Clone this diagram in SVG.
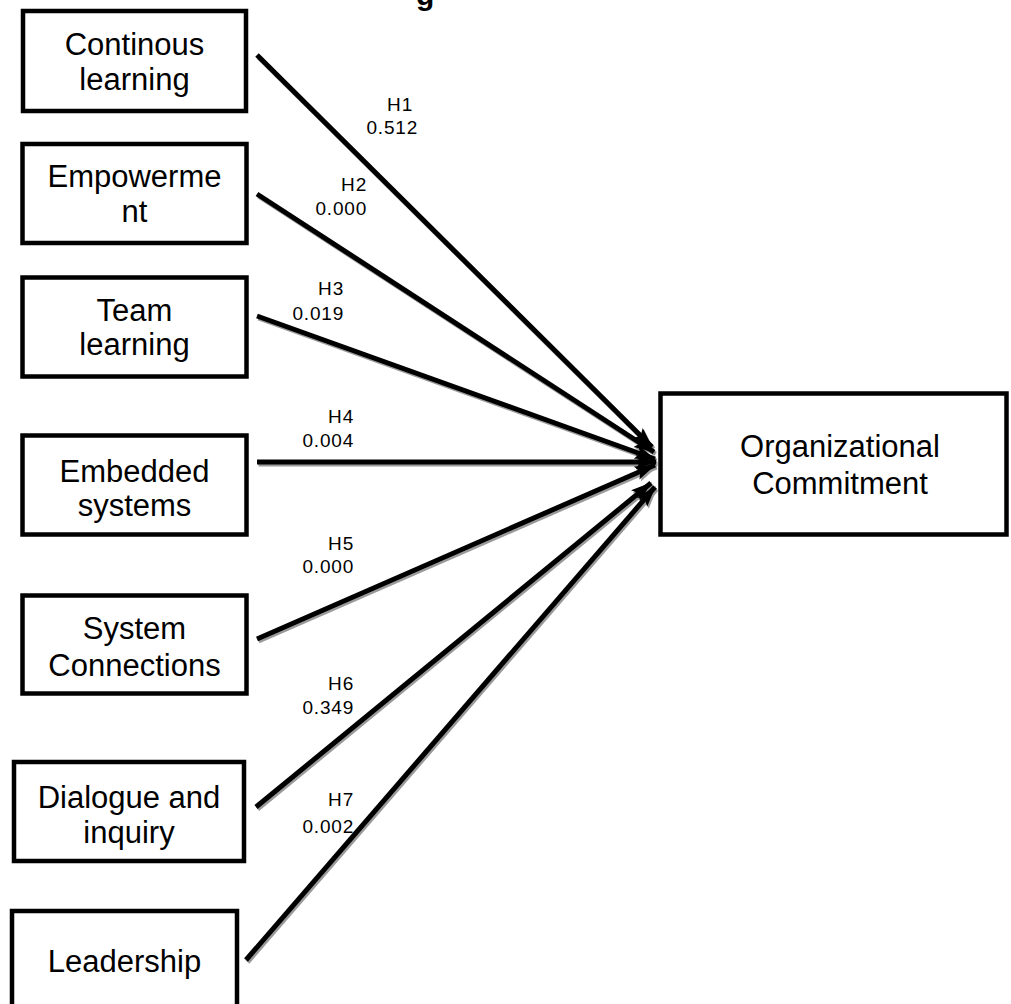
<svg xmlns="http://www.w3.org/2000/svg" width="1011" height="1004" viewBox="0 0 1011 1004">
<style>
.box{fill:#fff;stroke:#000;stroke-width:4.5}
.bt{font-family:"Liberation Sans",Arial,sans-serif;font-size:31px;fill:#000;text-anchor:middle}
.lb{font-family:"Liberation Sans",Arial,sans-serif;font-size:19px;letter-spacing:0.8px;fill:#000;text-anchor:end}
.ln{stroke:#000;stroke-width:5;fill:none;marker-end:url(#ah)}
.sh{stroke:#9a9a9a;stroke-width:5;fill:none;marker-end:url(#ahs)}
</style>
<defs>
<marker id="ah" markerUnits="userSpaceOnUse" markerWidth="24" markerHeight="16" refX="20" refY="7" orient="auto"><path d="M0,0 L21,7 L0,14 L4,7 z" fill="#000"/></marker>
<marker id="ahs" markerUnits="userSpaceOnUse" markerWidth="24" markerHeight="16" refX="20" refY="7" orient="auto"><path d="M0,0 L21,7 L0,14 L4,7 z" fill="#9a9a9a"/></marker>
</defs>
<rect width="1011" height="1004" fill="#fff"/>
<text x="416" y="5" style="font-family:'Liberation Sans',Arial,sans-serif;font-size:30px;font-weight:bold">g</text>
<g id="connectors">
<g transform="translate(1.5,2)">
<line class="sh" x1="257" y1="55" x2="652" y2="447"/>
<line class="sh" x1="257" y1="194" x2="654" y2="452"/>
<line class="sh" x1="257" y1="316" x2="655" y2="459"/>
<line class="sh" x1="257" y1="462" x2="656" y2="462"/>
<line class="sh" x1="257" y1="639" x2="655" y2="465"/>
<line class="sh" x1="256" y1="807" x2="651" y2="483"/>
<line class="sh" x1="246" y1="960" x2="655" y2="487"/>
</g>
<line class="ln" x1="257" y1="55" x2="652" y2="447"/>
<line class="ln" x1="257" y1="194" x2="654" y2="452"/>
<line class="ln" x1="257" y1="316" x2="655" y2="459"/>
<line class="ln" x1="257" y1="462" x2="656" y2="462"/>
<line class="ln" x1="257" y1="639" x2="655" y2="465"/>
<line class="ln" x1="256" y1="807" x2="651" y2="483"/>
<line class="ln" x1="246" y1="960" x2="655" y2="487"/>
</g>
<g id="labels">
<text class="lb" x="413" y="111">H1</text><text class="lb" x="418" y="134">0.512</text>
<text class="lb" x="367" y="191">H2</text><text class="lb" x="367" y="215">0.000</text>
<text class="lb" x="344" y="295">H3</text><text class="lb" x="344" y="320">0.019</text>
<text class="lb" x="354" y="423">H4</text><text class="lb" x="354" y="447">0.004</text>
<text class="lb" x="354" y="550">H5</text><text class="lb" x="354" y="573">0.000</text>
<text class="lb" x="354" y="690">H6</text><text class="lb" x="354" y="714">0.349</text>
<text class="lb" x="354" y="806">H7</text><text class="lb" x="354" y="833">0.002</text>
</g>
<g id="n1"><rect class="box" x="23" y="11" width="223" height="100"/><text class="bt" x="134.5" y="55">Continous</text><text class="bt" x="134.5" y="90">learning</text></g>
<g id="n2"><rect class="box" x="22.5" y="144" width="224" height="99"/><text class="bt" x="134.5" y="187">Empowerme</text><text class="bt" x="134.5" y="222">nt</text></g>
<g id="n3"><rect class="box" x="22.5" y="277.5" width="224" height="99"/><text class="bt" x="134.5" y="321">Team</text><text class="bt" x="134.5" y="355">learning</text></g>
<g id="n4"><rect class="box" x="22.5" y="435.5" width="224" height="99"/><text class="bt" x="134.5" y="482">Embedded</text><text class="bt" x="134.5" y="516">systems</text></g>
<g id="n5"><rect class="box" x="22.5" y="595.5" width="224" height="98"/><text class="bt" x="134.5" y="639">System</text><text class="bt" x="134.5" y="676">Connections</text></g>
<g id="n6"><rect class="box" x="14" y="762" width="230" height="99"/><text class="bt" x="129" y="808">Dialogue and</text><text class="bt" x="129" y="843">inquiry</text></g>
<g id="n7"><rect class="box" x="12" y="911" width="225" height="110"/><text class="bt" x="124.5" y="972">Leadership</text></g>
<g id="n8"><rect class="box" x="660.5" y="393.5" width="346" height="141"/><text class="bt" x="840" y="457">Organizational</text><text class="bt" x="840" y="494">Commitment</text></g>
</svg>
